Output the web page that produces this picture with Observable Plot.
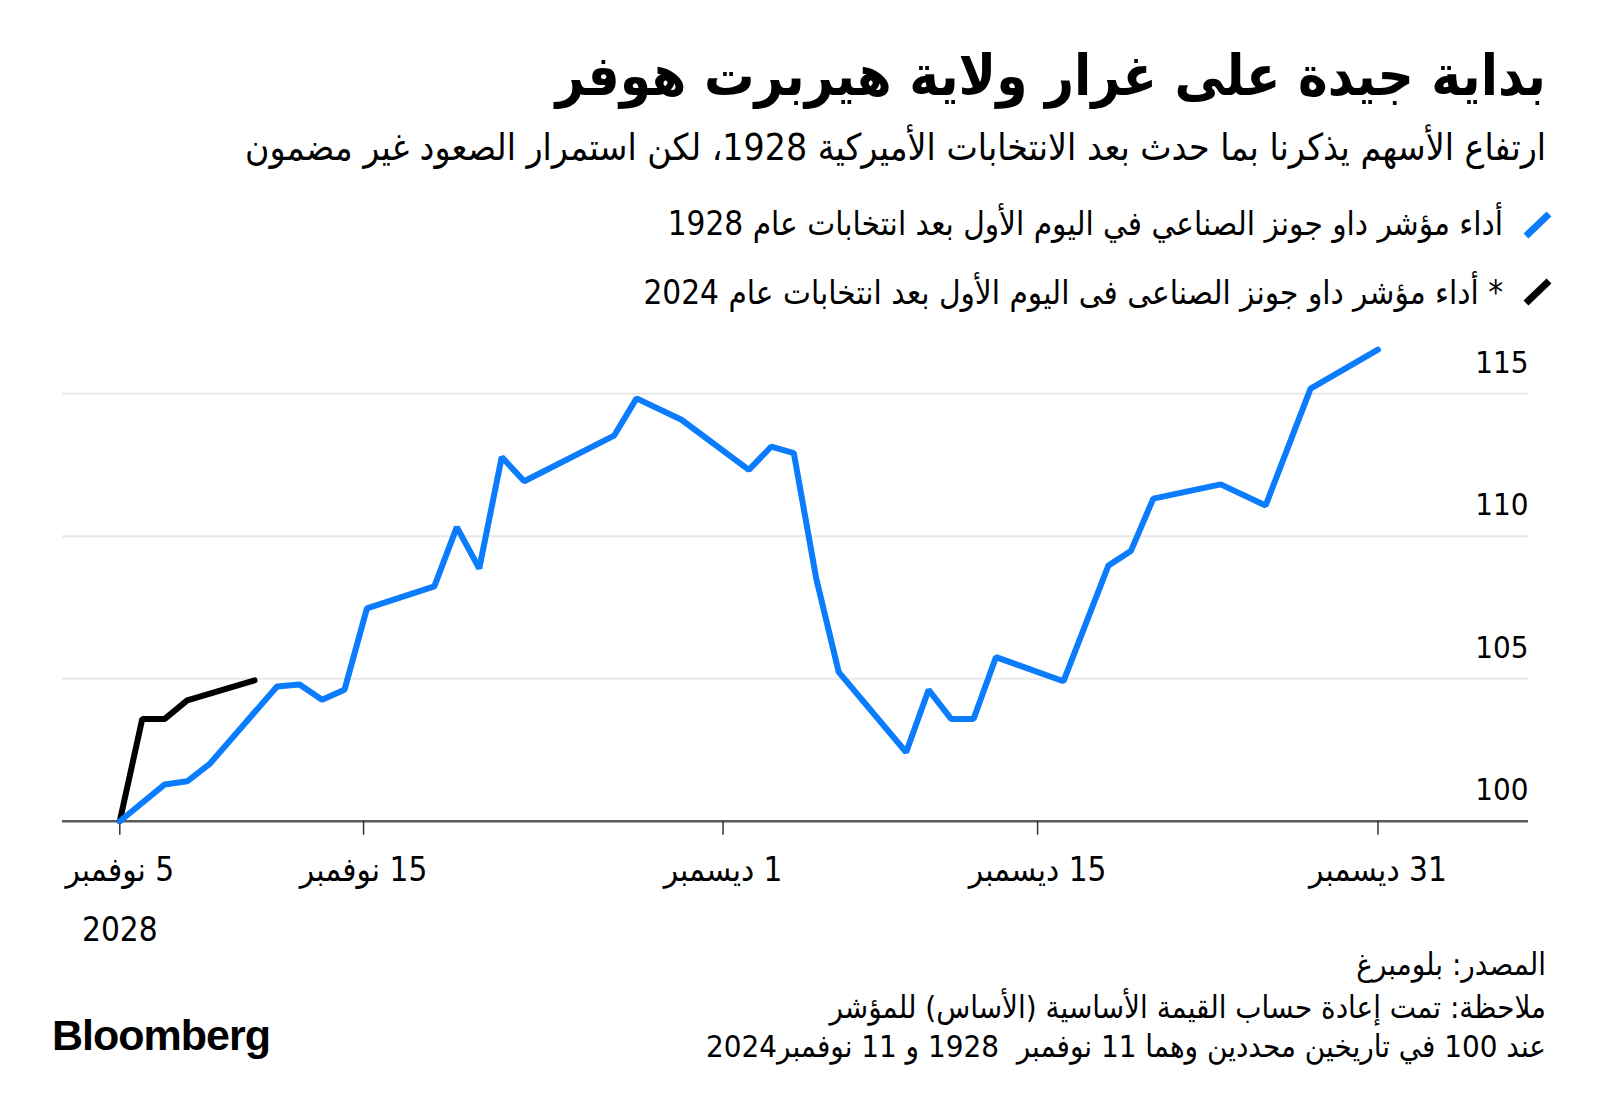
<!DOCTYPE html>
<html>
<head>
<meta charset="utf-8">
<script src="https://cdn.jsdelivr.net/npm/d3@7"></script>
<script src="https://cdn.jsdelivr.net/npm/@observablehq/plot@0.6"></script>
<style>
  html, body { margin: 0; padding: 0; background: #fff; }
  body { width: 1600px; height: 1115px; position: relative; overflow: hidden;
         font-family: "DejaVu Sans Condensed", "DejaVu Sans", sans-serif; color: #000; }
  .t { position: absolute; right: 54px; direction: rtl; text-align: right; white-space: nowrap; }
  #title { top: 43px; font-size: 56px; line-height: 66px; font-weight: bold; }
  #subtitle { top: 126px; font-size: 37px; line-height: 44px; }
  .leg { position: absolute; right: 97px; direction: rtl; text-align: right; white-space: nowrap; font-size: 33px; line-height: 40px; }
  #leg1 { top: 204px; }
  #leg2 { top: 273px; }
  .icon { position: absolute; left: 1520px; width: 34px; height: 30px; }
  #icon1 { top: 210px; }
  #icon2 { top: 277px; }
  #chart { position: absolute; left: 0; top: 320px; }
  .foot { font-size: 31px; line-height: 40px; }
  #src { top: 944px; }
  #note1 { top: 987px; }
  #note2 { top: 1026px; }
  #logo { position: absolute; left: 52px; top: 1010px; font-family: "Liberation Sans", Arial, sans-serif;
          font-weight: bold; font-size: 43px; line-height: 50px; letter-spacing: -1px; }
</style>
</head>
<body>
<div id="title" class="t">بداية جيدة على غرار ولاية هيربرت هوفر</div>
<div id="subtitle" class="t">ارتفاع الأسهم يذكرنا بما حدث بعد الانتخابات الأميركية 1928، لكن استمرار الصعود غير مضمون</div>

<svg class="icon" id="icon1" viewBox="0 0 34 30"><line x1="6" y1="26" x2="29" y2="4" stroke="#0b7cfe" stroke-width="7"/></svg>
<div id="leg1" class="leg">أداء مؤشر داو جونز الصناعي في اليوم الأول بعد انتخابات عام 1928</div>
<svg class="icon" id="icon2" viewBox="0 0 34 30"><line x1="6" y1="26" x2="29" y2="4" stroke="#000" stroke-width="7"/></svg>
<div id="leg2" class="leg">* أداء مؤشر داو جونز الصناعى فى اليوم الأول بعد انتخابات عام 2024</div>

<div id="chart"></div>

<div id="src" class="t foot">المصدر: بلومبرغ</div>
<div id="note1" class="t foot">ملاحظة: تمت إعادة حساب القيمة الأساسية (الأساس) للمؤشر</div>
<div id="note2" class="t foot">عند 100 في تاريخين محددين وهما 11 نوفمبر&nbsp;&nbsp;1928 و 11 نوفمبر2024</div>
<div id="logo">Bloomberg</div>

<script>
// ---- Data (day index from the start of the period) ----
const blueDays   = [0, 2, 3, 4, 7, 8, 9, 10, 11, 14, 15, 16, 17, 18, 22, 23, 25, 28, 29, 30, 31, 32, 35, 36, 37, 38, 39, 42, 44, 45, 46, 49, 51, 53, 56];
const blueValues = [100, 101.29, 101.40, 102.01, 104.73, 104.80, 104.26, 104.61, 107.47, 108.24, 110.32, 108.87, 112.78, 111.93, 113.53, 114.84, 114.09, 112.33, 113.15, 112.92, 108.51, 105.23, 102.42, 104.61, 103.59, 103.59, 105.76, 104.91, 108.97, 109.48, 111.32, 111.82, 111.08, 115.18, 116.55];

const blackDays   = [0, 1, 2, 3, 6];
const blackValues = [100, 103.59, 103.59, 104.24, 104.94];

const yTicks     = [100, 105, 110, 115];
const tickDays   = [0, 10.85, 26.85, 40.85, 56];
const tickLabels = ["5 نوفمبر\n2028", "15 نوفمبر", "1 ديسمبر", "15 ديسمبر", "31 ديسمبر"];

const blue  = blueDays.map((d, i) => ({day: d, value: blueValues[i]}));
const black = blackDays.map((d, i) => ({day: d, value: blackValues[i]}));
const labelByDay = new Map(tickDays.map((d, i) => [d, tickLabels[i]]));

const numFont = "'Liberation Sans Narrow', 'DejaVu Sans Condensed', sans-serif";

const plot = Plot.plot({
  width: 1600,
  height: 640,
  marginLeft: 62,
  marginRight: 72,
  marginTop: 73.3,
  marginBottom: 139.3,
  style: {fontFamily: numFont, fontSize: "30px", color: "#000", background: "transparent", overflow: "visible"},
  x: {domain: [-2.55, 62.7], label: null},
  y: {domain: [100, 115], axis: null, label: null},
  marks: [
    Plot.ruleY([105, 110, 115], {stroke: "#e8e8e8", strokeWidth: 2}),
    Plot.ruleY([100], {stroke: "#5a5a5a", strokeWidth: 2.5}),
    Plot.axisX(tickDays, {
      tickFormat: d => labelByDay.get(d),
      tickSize: 14, tickPadding: 4, fontSize: 33, lineHeight: 1.8,
      stroke: "#333", strokeWidth: 1.5, fill: "#000", fontFamily: numFont
    }),
    Plot.text(yTicks, {y: d => d, text: d => String(d), frameAnchor: "right", textAnchor: "end",
      dy: -31, fontSize: 31, fill: "#000", fontFamily: numFont}),
    Plot.line(black, {x: "day", y: "value", stroke: "#000", strokeWidth: 6, strokeLinejoin: "miter"}),
    Plot.line(blue, {x: "day", y: "value", stroke: "#0b7cfe", strokeWidth: 6, strokeLinejoin: "miter"})
  ]
});

document.getElementById("chart").appendChild(plot);
plot.querySelectorAll('g[aria-label="x-axis tick label"] text').forEach(t => {
  t.setAttribute("direction", "rtl");
  t.style.direction = "rtl";
});
</script>
</body>
</html>
